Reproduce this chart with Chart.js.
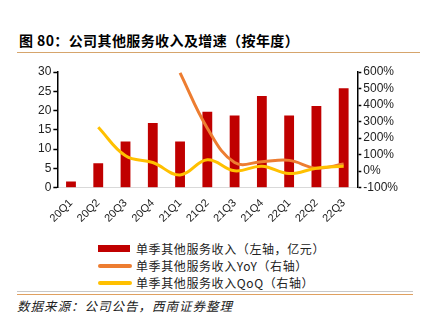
<!DOCTYPE html>
<html>
<head>
<meta charset="utf-8">
<script src="https://cdn.jsdelivr.net/npm/chart.js@4/dist/chart.umd.min.js"></script>
<style>
  body { margin:0; width:429px; height:329px; background:#fff; position:relative; overflow:hidden;
         font-family:"Noto Sans CJK SC", "Liberation Sans", sans-serif; }
  .title { position:absolute; left:19px; top:30px; font-size:14px; letter-spacing:0.4px; font-weight:bold; color:#000; line-height:20px; }
  .tline { position:absolute; left:17px; top:52px; width:403px; height:1px; background:#d6a56c; }
  .wrap { position:absolute; left:0; top:60px; width:429px; height:166px; }
  .legend { position:absolute; left:98px; top:240px; font-size:12px; letter-spacing:0.6px; color:#222; }
  .legend div { height:17px; line-height:17px; position:relative; padding-left:38px; }
  .legend span { position:absolute; left:0; }
  .bline1 { position:absolute; left:17px; top:291px; width:396px; height:1px; background:#c8c8c8; }
  .bline2 { position:absolute; left:17px; top:294px; width:396px; height:1px; background:#e0a060; }
  .foot { position:absolute; left:17px; top:297px; font-size:12.5px; letter-spacing:1px; font-style:italic; color:#222; line-height:18px; }
</style>
</head>
<body>
<div class="title">图 80：公司其他服务收入及增速（按年度）</div>
<div class="tline"></div>
<div class="wrap"><canvas id="chart" width="429" height="166"></canvas></div>
<div class="legend" id="legend"></div>
<div class="bline1"></div>
<div class="bline2"></div>
<div class="foot">数据来源：公司公告，西南证券整理</div>
<script>
let quarters = ["20Q1","20Q2","20Q3","20Q4","21Q1","21Q2","21Q3","21Q4","22Q1","22Q2","22Q3"];
let revenue = [1.6, 6.3, 12.0, 16.8, 12.0, 19.7, 18.7, 23.8, 18.7, 21.2, 25.8];
let yoy = [null, null, null, null, 595, 260, 52, 57, 65, 18, 43];
let qoq = [null, 266, 93, 52, -23, 69, 2, 30, -15, 18, 30];
let leftTicks = [0, 30, 5];
let rightTicks = [-100, 600, 100];

let names = ["单季其他服务收入（左轴，亿元）", "单季其他服务收入YoY（右轴）", "单季其他服务收入QoQ（右轴）"];
let colors = ["#c00000", "#ed7d31", "#ffc000"];

let tickFont = {family:"Liberation Sans", size:12};
let ctx = document.getElementById("chart");
let chart = new Chart(ctx, {
    type:'bar',
    data:{
        labels:quarters,
        datasets:[
            {type:'bar', label:names[0], data:revenue, backgroundColor:colors[0], yAxisID:'y',
             barPercentage:0.36, categoryPercentage:1, order:2},
            {type:'line', label:names[1], data:yoy, borderColor:colors[1], borderWidth:3,
             pointRadius:0, tension:0.4, yAxisID:'y1', order:1},
            {type:'line', label:names[2], data:qoq, borderColor:colors[2], borderWidth:3,
             pointRadius:0, tension:0.4, yAxisID:'y1', order:0}
        ]
    },
    options:{
        responsive:false,
        animation:false,
        layout:{padding:{left:36, right:29, top:12, bottom:0}},
        plugins:{legend:{display:false}, tooltip:{enabled:false}},
        scales:{
            x:{
                grid:{display:false},
                border:{color:'#d9d9d9', width:1},
                ticks:{color:'#222', font:{family:"Liberation Sans", size:11}, minRotation:45, maxRotation:45, padding:1}
            },
            y:{
                position:'left', min:leftTicks[0], max:leftTicks[1],
                grid:{drawOnChartArea:false, color:'#000', tickLength:4, tickWidth:1.5},
                border:{color:'#000', width:1.5},
                ticks:{stepSize:leftTicks[2], autoSkip:false, color:'#222', font:tickFont, padding:2}
            },
            y1:{
                position:'right', min:rightTicks[0], max:rightTicks[1],
                grid:{drawOnChartArea:false, color:'#000', tickLength:4, tickWidth:1.5},
                border:{color:'#000', width:1.5},
                ticks:{stepSize:rightTicks[2], autoSkip:false, color:'#222', font:tickFont, padding:2,
                       callback:function(v){ return v + "%"; }}
            }
        }
    }
});

let lg = document.getElementById("legend");
for (let i = 0; i < names.length; i++) {
    let sym = i == 0
        ? '<span style="top:5px;width:32px;height:7px;background:' + colors[i] + '"></span>'
        : '<span style="top:7px;width:34px;height:4px;border-radius:2px;background:' + colors[i] + '"></span>';
    lg.innerHTML += '<div>' + sym + names[i] + '</div>';
}
</script>
</body>
</html>
